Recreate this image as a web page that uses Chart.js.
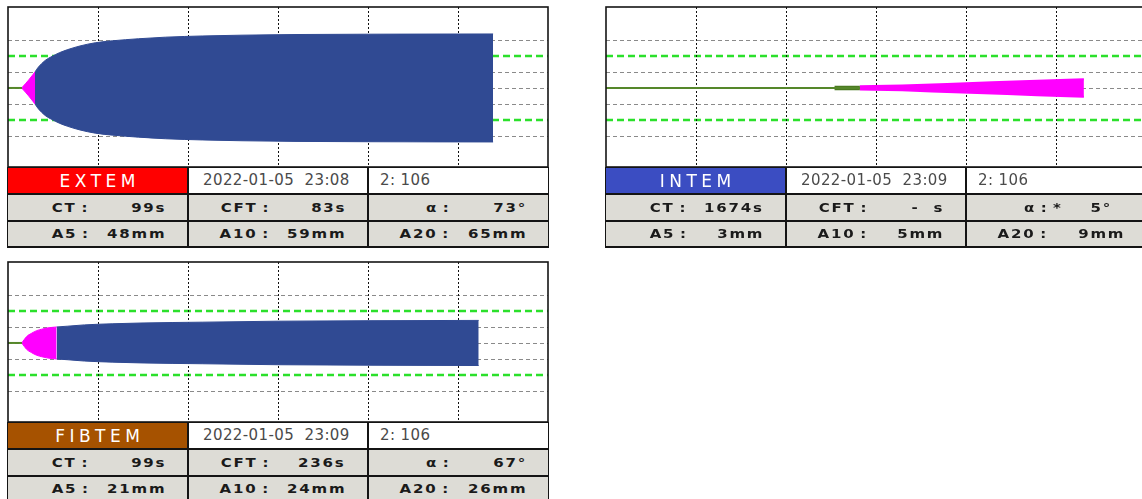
<!DOCTYPE html>
<html>
<head>
<meta charset="utf-8">
<script src="https://cdn.jsdelivr.net/npm/chart.js@4.4.1/dist/chart.umd.min.js"></script>
<style>
  html, body { margin: 0; padding: 0; background: #fff; overflow: hidden; width: 1142px; height: 499px; }
  canvas { position: absolute; }
  .tbl { position: absolute; background: #141414; width: 542px; height: 81px; }
  .cell { position: absolute; box-sizing: border-box; font-family: "DejaVu Sans", sans-serif; white-space: pre; overflow: hidden; }
  .name { color: #fff; font-size: 17px; letter-spacing: 4.5px; text-align: center; padding-left: 4.5px; line-height: 26px; }
  .date { background: #fff; color: #4a4a4a; font-size: 15px; letter-spacing: 0.4px; line-height: 25px; padding-left: 14px; }
  .chan { padding-left: 11px; }
  .stat { background: #dddcd6; color: #1a1a1a; font-weight: bold; font-size: 12.5px; letter-spacing: 1.5px; }
  .stat span { position: absolute; top: 0; transform: scaleX(1.2); transform-origin: right center; }
  .stat span.flag { transform-origin: left center; }
</style>
</head>
<body>
<canvas id="extem" width="544" height="164" style="left:6px;top:5px;width:544px;height:164px"></canvas>
<canvas id="intem" width="544" height="164" style="left:604px;top:5px;width:544px;height:164px"></canvas>
<canvas id="fibtem" width="544" height="164" style="left:6px;top:260px;width:544px;height:164px"></canvas>
<div id="tables"></div>
<script>
// Axis layout: time in minutes, amplitude in mm (trace drawn as +-A/2 about the centre line)
const TIME_TICKS = [0, 10, 20, 30, 40, 50, 60];
const GRAY_LINES = [-30, -10, 0, 10, 30];
const GREEN_LINES = [-20, 20];

// EXTEM trace
const extemBaseT = [0, 1.56];
const extemPinkT = [1.56, 2.3, 3.0];
const extemPinkA = [0.5, 10, 20];
const extemBlueT = [3.0, 3.3, 3.7, 4.2, 4.9, 5.7, 6.65, 8.0, 9.7, 11.65, 14.5, 17.5, 21.65, 26, 32, 40, 48, 53.9];
const extemBlueA = [20, 25, 30, 35, 39.5, 44, 48, 52.5, 56.5, 59, 61.5, 63.5, 65, 66, 66.8, 67.2, 67.4, 67.5];

// INTEM trace
const intemBaseT = [0, 28.2];
const intemPreT = [25.4, 28.2];
const intemPreA = [1.5, 1.6];
const intemPinkT = [28.2, 32.9, 37.9, 42.9, 47.9, 53.1];
const intemPinkA = [2, 3, 5, 7, 9, 11];

// FIBTEM trace
const fibtemBaseT = [0, 1.56];
const fibtemPinkT = [1.56, 2.07, 2.6, 3.19, 3.75, 4.3, 4.9, 5.4];
const fibtemPinkA = [0.5, 8, 12, 15.4, 17.2, 18.6, 19.5, 20];
const fibtemBlueT = [5.4, 6.65, 8.5, 11.65, 15, 21.65, 30, 40, 52.3];
const fibtemBlueA = [20, 21, 22.6, 24, 25, 26, 27.2, 27.8, 28.2];

// Result tables
const TEST_NAMES = ['EXTEM', 'INTEM', 'FIBTEM'];
const TEST_COLORS = ['#ff0000', '#3b4dc2', '#a65200'];
const TEST_DATES = ['2022-01-05  23:08', '2022-01-05  23:09', '2022-01-05  23:09'];
const TEST_CHANNELS = ['2: 106', '2: 106', '2: 106'];
const STAT_LABELS = ['CT\u2009:', 'CFT\u2009:', 'α\u2009:', 'A5\u2009:', 'A10\u2009:', 'A20\u2009:'];
const EXTEM_STATS = ['99s', '83s', '73°', '48mm', '59mm', '65mm'];
const INTEM_STATS = ['1674s', '-  s', '5°', '3mm', '5mm', '9mm'];
const FIBTEM_STATS = ['99s', '236s', '67°', '21mm', '24mm', '26mm'];
const INTEM_ALPHA_FLAG = '*';

const PANEL_ORIGINS = [[8, 7], [606, 7], [8, 262]];

const COL_BLUE = '#304a93';
const COL_PINK = '#ff00ff';
const COL_BASE = '#55872a';
const COL_PRE = '#4a7a20';

function band(t, a, color, border) {
  const up = t.map((x, i) => ({ x, y: a[i] / 2 }));
  const lo = t.map((x, i) => ({ x, y: -a[i] / 2 }));
  const common = { pointRadius: 0, borderColor: color, borderWidth: border, cubicInterpolationMode: 'monotone' };
  return [
    Object.assign({ data: up, fill: '+1', backgroundColor: color }, common),
    Object.assign({ data: lo, fill: false }, common)
  ];
}

function baseline(t) {
  return { data: t.map(x => ({ x, y: 0 })), borderColor: COL_BASE, borderWidth: 2, pointRadius: 0, fill: false };
}

const gridPlugin = {
  id: 'rotemGrid',
  beforeDatasetsDraw(chart) {
    const { ctx, chartArea: ca, scales: { x, y } } = chart;
    ctx.save();
    ctx.beginPath();
    ctx.rect(ca.left, ca.top, ca.right - ca.left, ca.bottom - ca.top);
    ctx.clip();
    ctx.lineWidth = 1;
    ctx.strokeStyle = '#8a8a8a';
    ctx.setLineDash([4, 3]);
    GRAY_LINES.forEach(v => {
      const py = Math.round(y.getPixelForValue(v)) + 0.5;
      ctx.beginPath(); ctx.moveTo(ca.left, py); ctx.lineTo(ca.right, py); ctx.stroke();
    });
    ctx.lineWidth = 2.5;
    ctx.strokeStyle = '#2be02b';
    ctx.setLineDash([7, 4]);
    GREEN_LINES.forEach(v => {
      const py = Math.round(y.getPixelForValue(v));
      ctx.beginPath(); ctx.moveTo(ca.left, py); ctx.lineTo(ca.right, py); ctx.stroke();
    });
    ctx.lineWidth = 1;
    ctx.strokeStyle = '#111';
    ctx.setLineDash([2, 2]);
    TIME_TICKS.slice(1, -1).forEach(v => {
      const px = Math.round(x.getPixelForValue(v)) + 0.5;
      ctx.beginPath(); ctx.moveTo(px, ca.top); ctx.lineTo(px, ca.bottom); ctx.stroke();
    });
    ctx.restore();
  },
  afterDraw(chart) {
    const { ctx, chartArea: ca } = chart;
    ctx.save();
    ctx.strokeStyle = '#141414';
    ctx.lineWidth = 1.6;
    ctx.setLineDash([]);
    ctx.strokeRect(ca.left, ca.top, ca.right - ca.left, ca.bottom - ca.top);
    ctx.restore();
  }
};

function makeChart(id, datasets) {
  return new Chart(document.getElementById(id), {
    type: 'line',
    data: { datasets },
    options: {
      responsive: false,
      animation: false,
      devicePixelRatio: 1,
      layout: { padding: 2 },
      events: [],
      plugins: { legend: { display: false }, tooltip: { enabled: false } },
      elements: { point: { radius: 0 }, line: { tension: 0 } },
      scales: {
        x: { type: 'linear', min: 0, max: 60, display: false },
        y: { type: 'linear', min: -49.4, max: 50.6, display: false }
      }
    },
    plugins: [gridPlugin]
  });
}

makeChart('extem', [
  baseline(extemBaseT),
  ...band(extemPinkT, extemPinkA, COL_PINK, 1),
  ...band(extemBlueT, extemBlueA, COL_BLUE, 1)
]);
makeChart('intem', [
  baseline(intemBaseT),
  ...band(intemPreT, intemPreA, COL_PRE, 2),
  ...band(intemPinkT, intemPinkA, COL_PINK, 2)
]);
makeChart('fibtem', [
  baseline(fibtemBaseT),
  ...band(fibtemPinkT, fibtemPinkA, COL_PINK, 1),
  ...band(fibtemBlueT, fibtemBlueA, COL_BLUE, 1)
]);

// Result tables below each trace
const STATS = [EXTEM_STATS, INTEM_STATS, FIBTEM_STATS];
const COLS = [[1, 179], [182, 178], [362, 179]];
const ROWS = [[1, 25], [28, 25], [55, 24]];
const host = document.getElementById('tables');

function cell(parent, cls, col, row, bg) {
  const d = document.createElement('div');
  d.className = 'cell ' + cls;
  d.style.left = COLS[col][0] + 'px';
  d.style.width = COLS[col][1] + 'px';
  d.style.top = ROWS[row][0] + 'px';
  d.style.height = ROWS[row][1] + 'px';
  if (bg) d.style.background = bg;
  parent.appendChild(d);
  return d;
}

TEST_NAMES.forEach((name, k) => {
  const [ox, oy] = PANEL_ORIGINS[k];
  const tbl = document.createElement('div');
  tbl.className = 'tbl';
  tbl.style.left = (ox - 1) + 'px';
  tbl.style.top = (oy + 160) + 'px';
  host.appendChild(tbl);

  cell(tbl, 'name', 0, 0, TEST_COLORS[k]).textContent = name;
  cell(tbl, 'date', 1, 0).textContent = TEST_DATES[k];
  cell(tbl, 'date chan', 2, 0).textContent = TEST_CHANNELS[k];

  STAT_LABELS.forEach((lab, i) => {
    const col = i % 3, row = 1 + Math.floor(i / 3);
    const c = cell(tbl, 'stat', col, row);
    c.style.lineHeight = ROWS[row][1] + 'px';
    const l = document.createElement('span');
    l.textContent = lab;
    l.style.right = (COLS[col][1] - 81.5) + 'px';
    c.appendChild(l);
    const v = document.createElement('span');
    v.textContent = STATS[k][i];
    v.style.right = '21px';
    if (k === 1 && i === 2) {
      v.style.right = '34px';
      const f = document.createElement('span');
      f.className = 'flag';
      f.textContent = INTEM_ALPHA_FLAG;
      f.style.left = '86px';
      c.appendChild(f);
    }
    c.appendChild(v);
  });
});
</script>
</body>
</html>
